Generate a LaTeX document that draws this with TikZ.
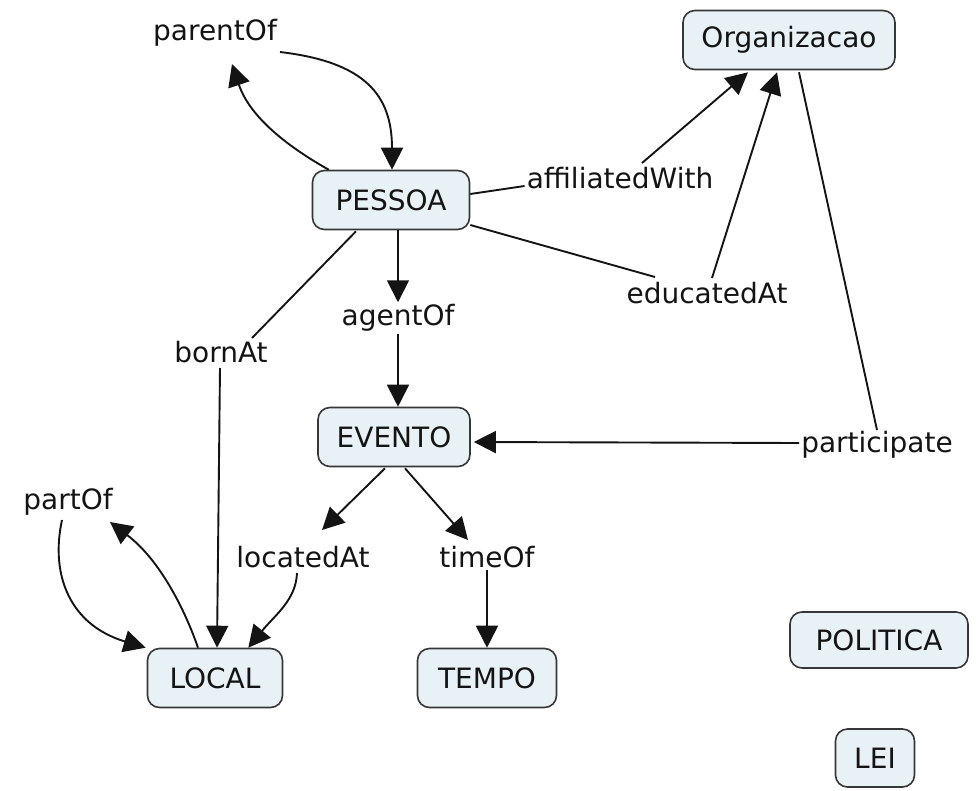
\documentclass[tikz,border=0pt]{standalone}
\usepackage{fontspec}
\setmainfont{DejaVu Sans}
\usetikzlibrary{arrows.meta,calc}
\definecolor{boxfill}{RGB}{232,241,245}
\definecolor{ink}{RGB}{20,20,20}
\begin{document}
\begin{tikzpicture}[x=1pt,y=-1pt,
  concept/.style={draw=ink!85, fill=boxfill, rounded corners=12pt, line width=1.6pt,
    minimum height=59pt, inner xsep=4pt, font=\fontsize{28}{32}\selectfont, text=ink},
  lbl/.style={inner sep=2pt, font=\fontsize{28}{32}\selectfont, text=ink},
  link/.style={line width=1.9pt, draw=ink},
  arr/.style={link, -{Triangle[length=22pt,width=22pt]}}]
\useasboundingbox (0,0) rectangle (980,790);
% concepts
\node[concept, minimum width=212pt] (org) at (789,40) {Organizacao};
\node[concept, minimum width=157pt] (pessoa) at (391,200) {PESSOA};
\node[concept, minimum width=152pt] (evento) at (394,437) {EVENTO};
\node[concept, minimum width=135pt] (local) at (215,678) {LOCAL};
\node[concept, minimum width=139pt] (tempo) at (487,678) {TEMPO};
\node[concept, minimum width=178pt, minimum height=56pt] (politica) at (879,640) {POLITICA};
\node[concept, minimum width=79pt, minimum height=58pt] (lei) at (875,758) {LEI};
% linking phrases
\node[lbl] (parent) at (215,33) {parentOf};
\node[lbl] (aff) at (620,178) {affiliatedWith};
\node[lbl] (edu) at (707,293) {educatedAt};
\node[lbl] (agent) at (398,318) {agentOf};
\node[lbl] (born) at (221,352) {bornAt};
\node[lbl] (part) at (877,445) {participate};
\node[lbl] (partof) at (68,502) {partOf};
\node[lbl] (loc) at (303,557) {locatedAt};
\node[lbl] (time) at (487,557) {timeOf};
% connectors
\draw[arr] ($(pessoa.north west)+(17,0)$) .. controls (290,148) and (250,118) .. ($(parent)+(17,31)$);
\draw[arr] ($(parent)+(65,19)$) .. controls (365,62) and (392,95) .. ($(pessoa.north)+(1,0)$);
\draw[link] ($(pessoa.east)+(0,-6)$) -- ($(aff.west)+(0,8)$);
\draw[arr] ($(aff)+(22,-15)$) -- ($(org.south)+(-41,2)$);
\draw[link] ($(pessoa.east)+(0,25)$) -- ($(edu)+(-52,-16)$);
\draw[arr] ($(edu)+(5,-15)$) -- ($(org.south)+(-12,2)$);
\draw[link] ($(org.south)+(10,2)$) -- ($(part)+(0,-15)$);
\draw[arr] ($(part.west)+(0,-2)$) -- ($(evento.east)+(3,5)$);
\draw[arr] (pessoa.south -| agent) -- (agent.north);
\draw[arr] (agent.south) -- (evento.north -| agent);
\draw[link] ($(pessoa.south)+(-35,1)$) -- ($(born)+(31,-14)$);
\draw[arr] ($(born)+(-1,16)$) -- ($(local.north)+(2,0)$);
\draw[arr] ($(evento.south)+(-9,1)$) -- ($(loc)+(19,-27)$);
\draw[arr] ($(loc)+(-6,16)$) .. controls (296,600) and (275,615) .. ($(local.north east)+(-35,0)$);
\draw[arr] ($(evento.south)+(11,1)$) -- ($(time)+(-19,-17)$);
\draw[arr] (time.south) -- (tempo.north);
\draw[arr] ($(local.north)+(-17,0)$) .. controls (185,610) and (160,560) .. ($(partof)+(42,20)$);
\draw[arr] ($(partof)+(-6,18)$) .. controls (50,575) and (70,625) .. ($(local.north west)+(-1,0)$);
\end{tikzpicture}
\end{document}
